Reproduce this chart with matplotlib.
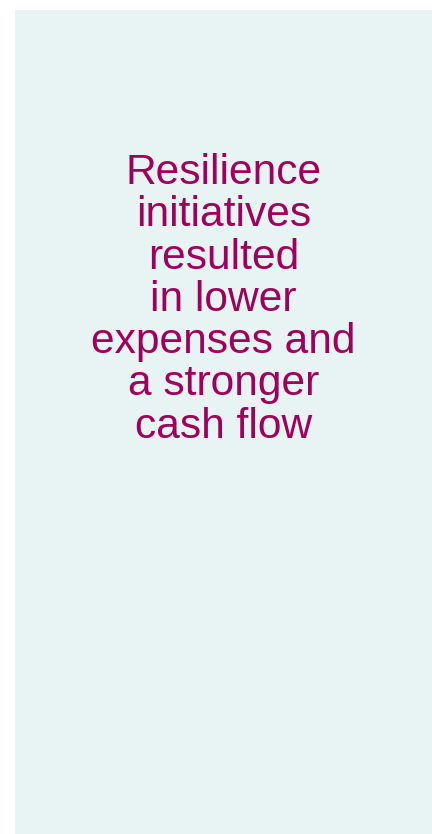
import matplotlib
matplotlib.use("Agg")
import matplotlib.pyplot as plt

lines = ["Resilience", "initiatives", "resulted", "in lower",
         "expenses and", "a stronger", "cash flow"]

W, H = 432, 834
fig = plt.figure(figsize=(W / 100, H / 100), dpi=100)
fig.patch.set_facecolor("white")

ax = fig.add_axes([15 / W, 0, (W - 15) / W, (H - 10) / H])
ax.set_facecolor("#E8F4F4")
ax.set_xticks([])
ax.set_yticks([])
for s in ax.spines.values():
    s.set_visible(False)

first_baseline = 184
spacing = 42.3
cx = (15 + W) / 2
for i, t in enumerate(lines):
    y = first_baseline + i * spacing
    fig.text(cx / W, 1 - y / H, t, ha="center", va="baseline",
             fontsize=30.6, color="#A0005A", family="Liberation Sans")

fig.savefig("out.png", dpi=100, facecolor="white")
